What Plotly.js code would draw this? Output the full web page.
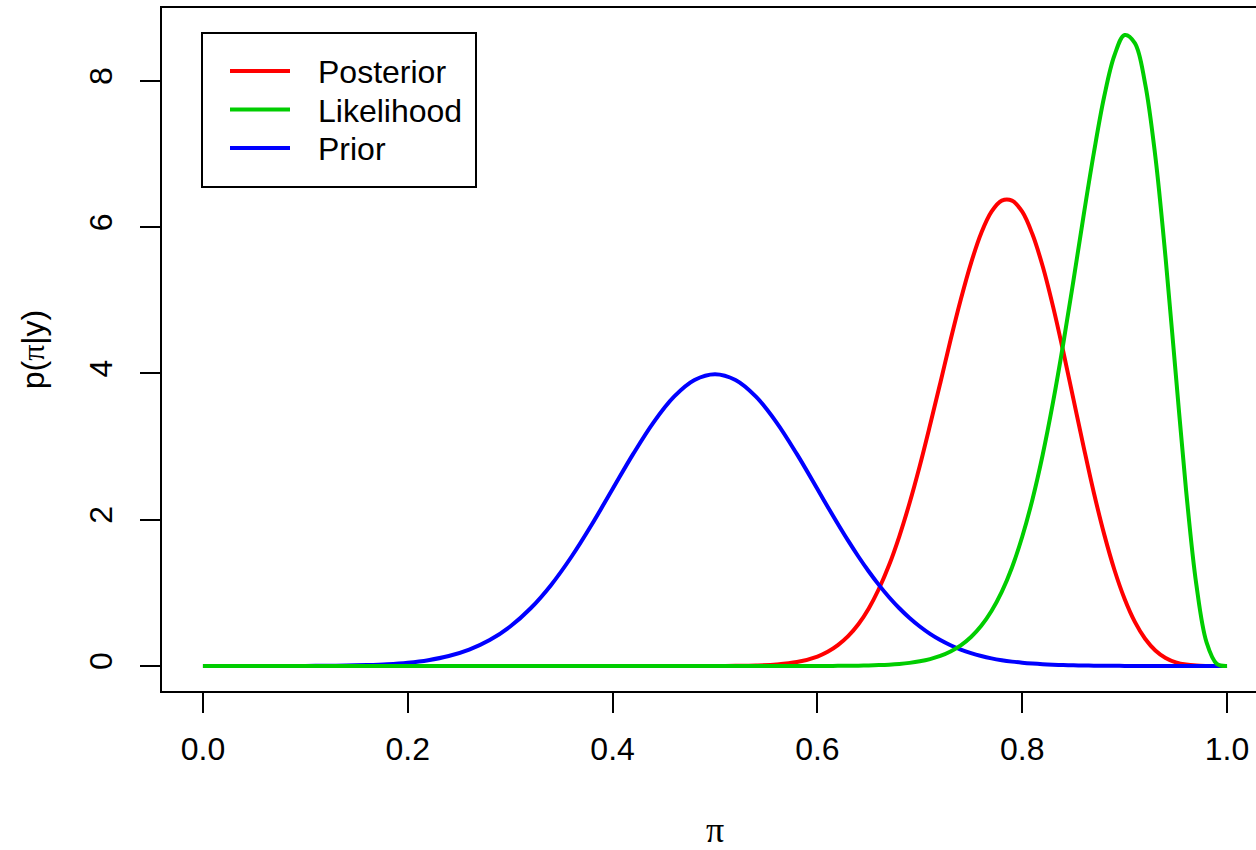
<!DOCTYPE html>
<html>
<head>
<meta charset="utf-8">
<script src="https://cdn.plot.ly/plotly-3.0.1.min.js"></script>
<style>
  html, body { margin: 0; padding: 0; overflow: hidden; background: #ffffff; }
  #chart { width: 1268px; height: 850px; }
</style>
</head>
<body>
<div id="chart"></div>
<script>
// Grid of success probabilities (pi): coarse on the flat left part, finer where the curves move.
const piGrid = [
  0.00, 0.02, 0.04, 0.06, 0.08, 0.10, 0.12, 0.14, 0.16, 0.18,
  0.20, 0.22, 0.24, 0.26, 0.28, 0.30, 0.32, 0.34, 0.36, 0.38,
  0.40, 0.42, 0.44, 0.46, 0.48, 0.50, 0.52, 0.54, 0.56, 0.58,
  0.60,
  0.61, 0.62, 0.63, 0.64, 0.65, 0.66, 0.67, 0.68, 0.69, 0.70,
  0.71, 0.72, 0.73, 0.74, 0.75, 0.76, 0.77, 0.78, 0.79, 0.80,
  0.81, 0.82, 0.83, 0.84, 0.85, 0.86, 0.87, 0.88, 0.89, 0.90,
  0.91, 0.92, 0.93, 0.94, 0.95, 0.96, 0.97, 0.98, 0.99, 1.00
];

// Posterior density p(pi|y)
const posteriorDensity = [
  0, 0, 0, 0, 0, 0, 0, 0, 0, 0,
  0, 0, 0, 0, 0, 0, 0, 0, 0, 0,
  0, 0, 0, 0, 0.0002, 0.0006, 0.0022, 0.0070, 0.0203, 0.0536,
  0.1296,
  0.194, 0.285, 0.408, 0.571, 0.784, 1.053, 1.380, 1.774, 2.229, 2.739,
  3.295, 3.871, 4.457, 5.011, 5.510, 5.921, 6.212, 6.363, 6.363, 6.212,
  5.903, 5.466, 4.921, 4.304, 3.649, 2.994, 2.366, 1.803, 1.316, 0.916,
  0.603, 0.373, 0.213, 0.110, 0.050, 0.019, 0.0056, 0.0010, 0.0001, 0
];

// Likelihood, scaled as a density in pi
const likelihoodDensity = [
  0, 0, 0, 0, 0, 0, 0, 0, 0, 0,
  0, 0, 0, 0, 0, 0, 0, 0, 0, 0,
  0, 0, 0, 0, 0, 0, 0, 0.00002, 0.00008, 0.00023,
  0.00067,
  0.0011, 0.0019, 0.0030, 0.0048, 0.0076, 0.0120, 0.0185, 0.0283, 0.0428, 0.0639,
  0.0944, 0.1375, 0.1983, 0.2820, 0.3961, 0.5494, 0.7513, 1.0131, 1.347, 1.767,
  2.278, 2.889, 3.601, 4.402, 5.270, 6.166, 7.022, 7.784, 8.348, 8.629,
  8.518, 7.965, 6.966, 5.579, 3.983, 2.404, 1.116, 0.322, 0.029, 0
];

// Prior density
const priorDensity = [
  0.0000, 0.0000, 0.0001, 0.0003, 0.0006, 0.0013, 0.0029, 0.0061, 0.0123, 0.0238,
  0.0443, 0.0792, 0.1358, 0.2239, 0.3547, 0.5399, 0.7895, 1.1092, 1.4973, 1.9419,
  2.4197, 2.8969, 3.3322, 3.6827, 3.9104, 3.9894, 3.9104, 3.6827, 3.3322, 2.8969,
  2.4197,
  2.1785, 1.9419, 1.7137, 1.4973, 1.2952, 1.1092, 0.9405, 0.7895, 0.6562, 0.5399,
  0.4398, 0.3547, 0.2833, 0.2239, 0.1753, 0.1358, 0.1042, 0.0792, 0.0595, 0.0443,
  0.0327, 0.0238, 0.0172, 0.0123, 0.0087, 0.0061, 0.0042, 0.0029, 0.0020, 0.0013,
  0.0009, 0.0006, 0.0004, 0.0003, 0.0002, 0.0001, 0.0001, 0.0000, 0.0000, 0.0000
];

// Legend entries, top to bottom
const seriesNames = ["Posterior", "Likelihood", "Prior"];
const seriesColors = ["#ff0000", "#00cd00", "#0000ff"];

const xTickVals = [0, 0.2, 0.4, 0.6, 0.8, 1.0];
const xTickText = ["0.0", "0.2", "0.4", "0.6", "0.8", "1.0"];
const yTickVals = [0, 2, 4, 6, 8];
const yTickText = ["0", "2", "4", "6", "8"];

const SANS = "Liberation Sans, Arial, Helvetica, sans-serif";
const SERIF = "Liberation Serif, Times New Roman, serif";
const FONT_SIZE = 32;

// Plot area in pixels (the frame runs a little past the right edge of the page)
const W = 1268, H = 850;
const M = { l: 162, r: 0, t: 8, b: 159 };
const plotW = W - M.l - M.r, plotH = H - M.t - M.b;
const px2x = p => (p - M.l) / plotW;
const px2y = p => 1 - (p - M.t) / plotH;

function curve(name, color, ys) {
  return {
    type: "scatter",
    mode: "lines",
    name: name,
    x: piGrid,
    y: ys,
    showlegend: false,
    line: { color: color, width: 4, shape: "spline", smoothing: 1 },
    hoverinfo: "skip"
  };
}

// Drawing order: posterior, prior, then likelihood on top.
const traces = [
  curve(seriesNames[0], seriesColors[0], posteriorDensity),
  curve(seriesNames[2], seriesColors[2], priorDensity),
  curve(seriesNames[1], seriesColors[1], likelihoodDensity)
];

// Boxed legend in the top-left corner of the plot
const legendBox = { left: 202, right: 476, top: 33, bottom: 187 };
const legendRowsPx = [71, 109.5, 148];
const legendLinePx = [230, 290];
const legendTextPx = 316;

const shapes = [{
  type: "rect", xref: "paper", yref: "paper",
  x0: px2x(legendBox.left), x1: px2x(legendBox.right),
  y0: px2y(legendBox.bottom), y1: px2y(legendBox.top),
  line: { color: "#000000", width: 2 }, fillcolor: "#ffffff", layer: "above"
}];
const annotations = [];
seriesNames.forEach((name, i) => {
  shapes.push({
    type: "line", xref: "paper", yref: "paper",
    x0: px2x(legendLinePx[0]), x1: px2x(legendLinePx[1]),
    y0: px2y(legendRowsPx[i]), y1: px2y(legendRowsPx[i]),
    line: { color: seriesColors[i], width: 4 }, layer: "above"
  });
  annotations.push({
    xref: "paper", yref: "paper",
    x: px2x(legendTextPx), y: px2y(legendRowsPx[i] + 1),
    xanchor: "left", yanchor: "middle", showarrow: false,
    text: name,
    font: { family: SANS, size: FONT_SIZE, color: "#000000" }
  });
});

const layout = {
  width: W,
  height: H,
  margin: { l: M.l, r: M.r, t: M.t, b: M.b, pad: 0 },
  paper_bgcolor: "#ffffff",
  plot_bgcolor: "#ffffff",
  font: { family: SANS, size: FONT_SIZE, color: "#000000" },
  showlegend: false,
  shapes: shapes,
  annotations: annotations,
  xaxis: {
    range: [-0.04, 1.04],
    tickmode: "array", tickvals: xTickVals, ticktext: xTickText,
    ticks: "outside", ticklen: 20, tickwidth: 2, tickcolor: "#000000",
    ticklabelstandoff: 9,
    showline: true, linecolor: "#000000", linewidth: 2, mirror: true,
    showgrid: false, zeroline: false, automargin: false,
    tickfont: { family: SANS, size: FONT_SIZE, color: "#000000" },
    title: {
      text: "π",
      font: { family: SERIF, size: 36, color: "#000000" },
      standoff: 61
    }
  },
  yaxis: {
    range: [-0.342, 8.998],
    tickmode: "array", tickvals: yTickVals, ticktext: yTickText,
    tickangle: -90,
    ticks: "outside", ticklen: 20, tickwidth: 2, tickcolor: "#000000",
    ticklabelstandoff: 15,
    showline: true, linecolor: "#000000", linewidth: 2, mirror: true,
    showgrid: false, zeroline: false, automargin: false,
    tickfont: { family: SANS, size: FONT_SIZE, color: "#000000" },
    title: {
      text: 'p(<span style="font-family:' + SERIF + '">π</span>|y)',
      font: { family: SANS, size: FONT_SIZE, color: "#000000" },
      standoff: 29
    }
  }
};

Plotly.newPlot("chart", traces, layout, { displayModeBar: false, staticPlot: true });
</script>
</body>
</html>
